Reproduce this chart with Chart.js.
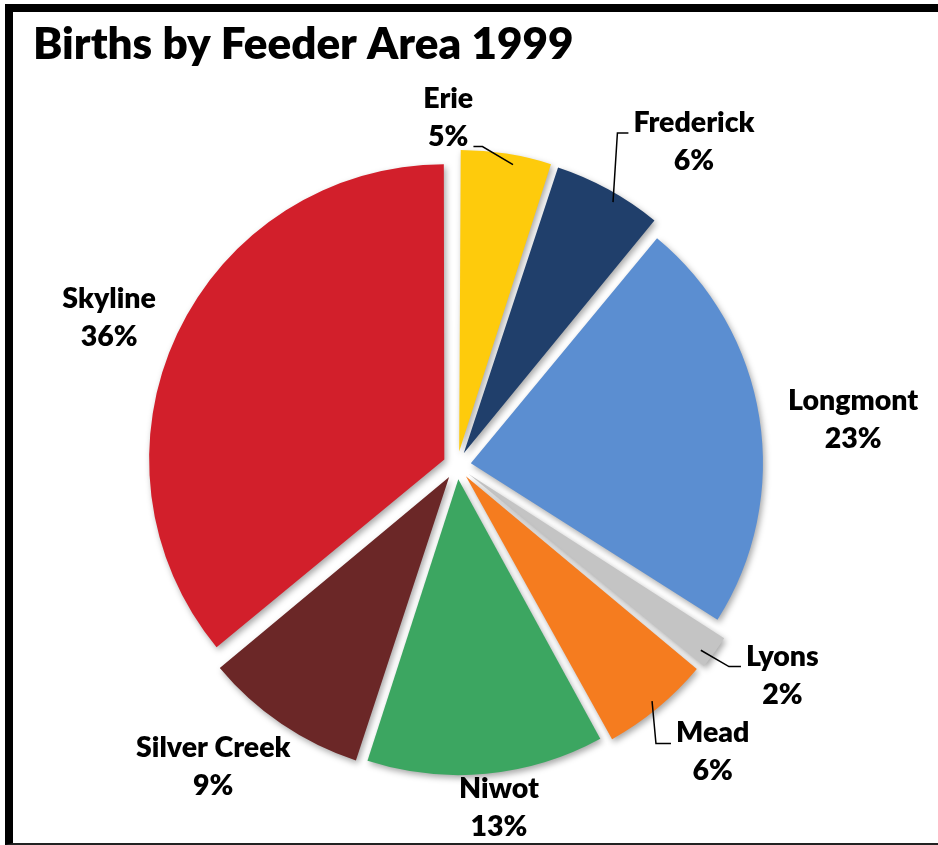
<!DOCTYPE html>
<html>
<head>
<meta charset="utf-8">
<title>Births by Feeder Area 1999</title>
<script src="https://cdn.jsdelivr.net/npm/chart.js@4.4.0/dist/chart.umd.min.js"></script>
<style>
html, body { margin: 0; padding: 0; background: #fff; }
#wrap { position: relative; width: 938px; height: 845px; overflow: hidden; }
#frame { position: absolute; left: 5px; top: 4px; width: 933px; height: 841px; box-sizing: border-box;
         border-top: 8px solid #000; border-left: 8px solid #000; border-bottom: 2px solid #222; pointer-events: none; }
canvas { position: absolute; left: 0; top: 0; }
</style>
</head>
<body>
<div id="wrap">
  <canvas id="birthsChart" width="938" height="845"></canvas>
  <div id="frame"></div>
</div>
<script>
// data (share of births, %)
const areas = ['Erie', 'Frederick', 'Longmont', 'Lyons', 'Mead', 'Niwot', 'Silver Creek', 'Skyline'];
const shares = [5, 6, 23, 2, 6, 13, 9, 36];
const pctLabels = shares.map(v => v + '%');

const sliceColors = ['#FECB0C', '#203F6B', '#5B8ED1', '#C4C4C4', '#F57C1F', '#3CA661', '#6B2727', '#D21F2B'];

// where each label sits: angle (deg, clockwise from top) and distance from pie centre
const labelPlace = [
    { a: 358.6, d: 358 }, { a: 35.4, d: 409 }, { a: 82.0, d: 400 }, { a: 121.6, d: 382 },
    { a: 137.3, d: 377 }, { a: 172.8, d: 335 }, { a: 219.9, d: 380 }, { a: 294.4, d: 382 }
];
// leader lines: text line they hang off, side, elbow distance, point along the slice edge (0..1)
const leaders = [
    { line: 1, side: 'right', elbow: 14, at: 0.59 },
    { line: 0, side: 'left', elbow: 16, at: 0.59 },
    null,
    { line: 0, side: 'left', elbow: 17, at: 0.67 },
    { line: 0, side: 'left', elbow: 20, at: 0.5 },
    null, null, null
];

const LINE_GAP = 38;
const LABEL_FONT = '800 28.5px Lato';

const outsideLabels = {
    id: 'outsideLabels',
    beforeDatasetsDraw(chart) {
        const ctx = chart.ctx;
        ctx.save();
        ctx.shadowColor = 'rgba(0,0,0,0.35)';
        ctx.shadowBlur = 6;
        ctx.shadowOffsetX = 2;
        ctx.shadowOffsetY = 3;
    },
    afterDatasetsDraw(chart) {
        const ctx = chart.ctx;
        ctx.restore();
        const arcs = chart.getDatasetMeta(0).data;
        ctx.save();
        ctx.font = LABEL_FONT;
        ctx.fillStyle = '#000';
        ctx.strokeStyle = '#000';
        ctx.lineWidth = 1.5;
        ctx.textAlign = 'center';
        ctx.textBaseline = 'alphabetic';
        arcs.forEach((arc, i) => {
            const p = arc.getProps(['x', 'y', 'startAngle', 'endAngle', 'outerRadius'], true);
            const mid = (p.startAngle + p.endAngle) / 2;
            const shift = (arc.options.offset || 0) / 4;
            const ang = (labelPlace[i].a - 90) * Math.PI / 180;
            const tx = p.x + Math.cos(ang) * labelPlace[i].d;
            const ty = p.y + Math.sin(ang) * labelPlace[i].d;
            const lines = [areas[i], pctLabels[i]];
            lines.forEach((t, k) => ctx.fillText(t, tx, ty + k * LINE_GAP));

            const lead = leaders[i];
            if (lead) {
                const w = ctx.measureText(lines[lead.line]).width;
                const ly = ty + lead.line * LINE_GAP + 1;
                const dir = lead.side === 'right' ? 1 : -1;
                const sx = tx + dir * (w / 2 + 5);
                const ex = tx + dir * (w / 2 + lead.elbow);
                const at = p.startAngle + (p.endAngle - p.startAngle) * lead.at;
                // slice is pushed out along its middle angle
                const ox = Math.cos(mid) * shift, oy = Math.sin(mid) * shift;
                const ax = p.x + ox + Math.cos(at) * p.outerRadius;
                const ay = p.y + oy + Math.sin(at) * p.outerRadius;
                ctx.beginPath();
                ctx.moveTo(sx, ly);
                ctx.lineTo(ex, ly);
                ctx.lineTo(ax, ay);
                ctx.stroke();
            }
        });
        ctx.restore();
    }
};

new Chart(document.getElementById('birthsChart'), {
    type: 'pie',
    data: {
        labels: areas,
        datasets: [{
            data: shares,
            backgroundColor: sliceColors,
            borderWidth: 0,
            offset: 56
        }]
    },
    options: {
        responsive: false,
        animation: false,
        radius: 292,
        layout: { padding: { left: 33, right: 57, top: 10, bottom: 0 } },
        plugins: {
            legend: { display: false },
            tooltip: { enabled: false },
            title: {
                display: true,
                text: 'Births by Feeder Area 1999',
                align: 'start',
                color: '#000',
                font: { family: 'Lato', size: 44, weight: 800 },
                padding: { top: 8.5, bottom: 14.5 }
            }
        }
    },
    plugins: [outsideLabels]
});
</script>
</body>
</html>
